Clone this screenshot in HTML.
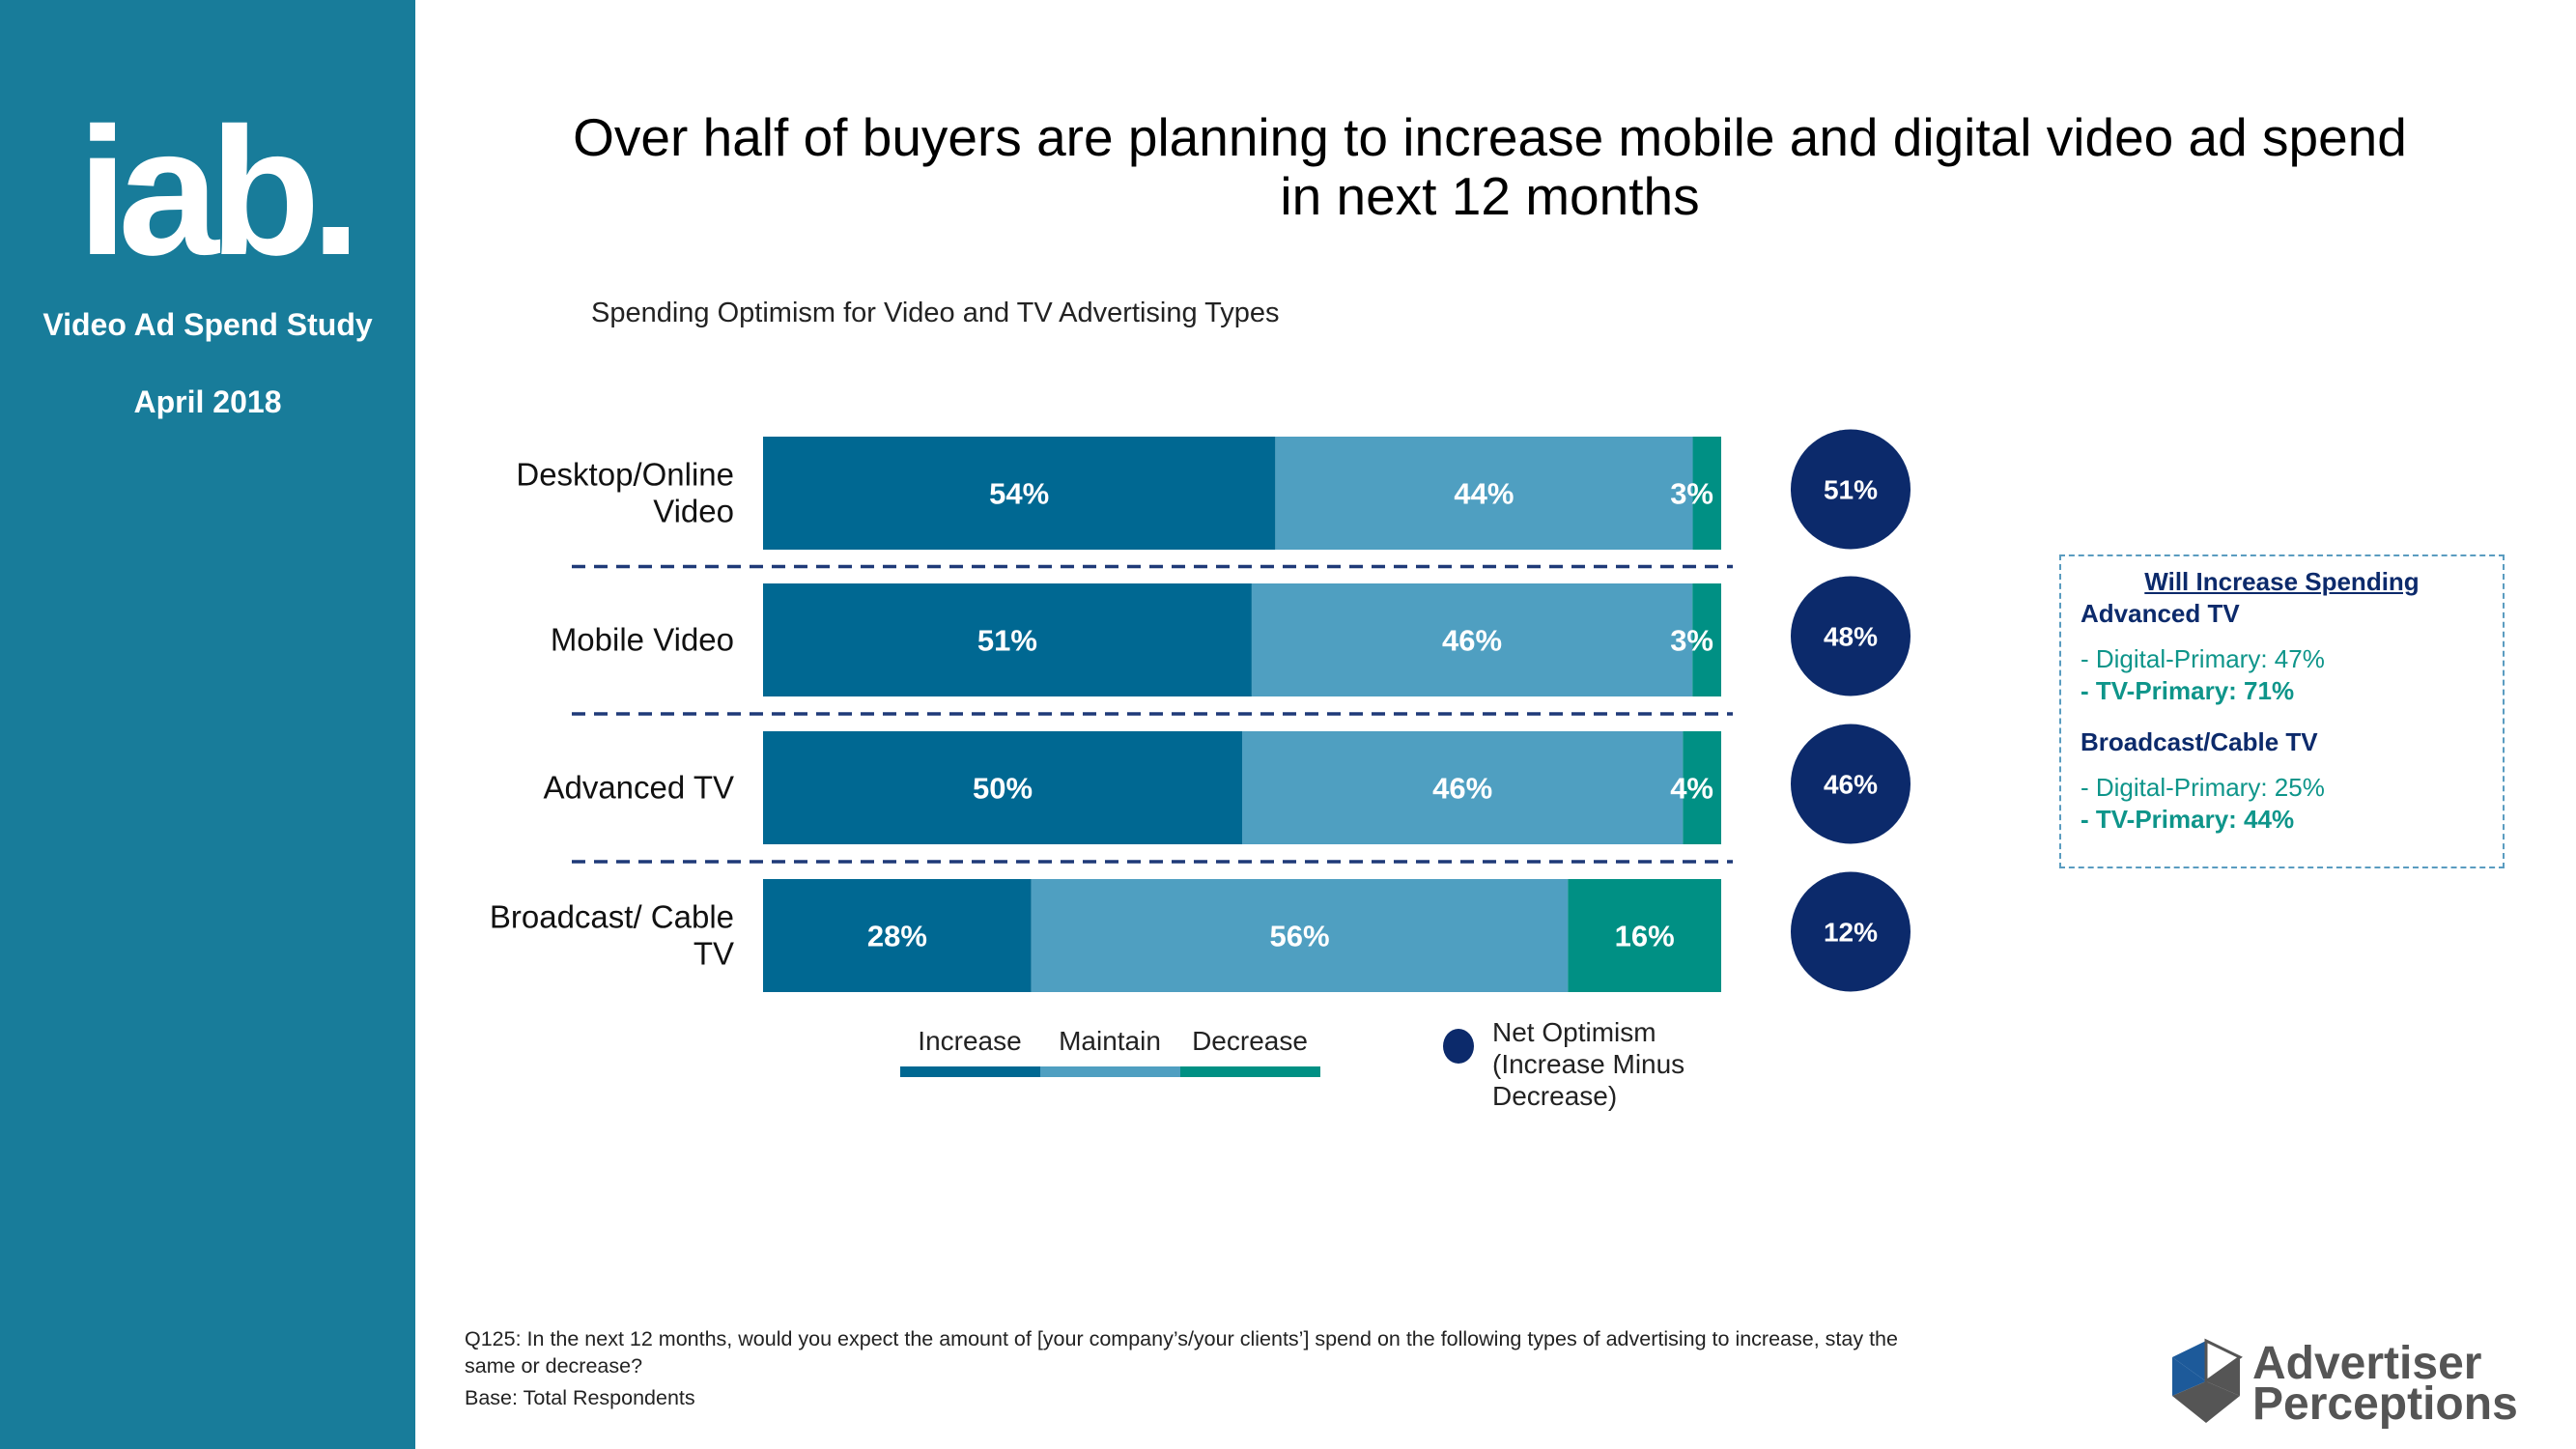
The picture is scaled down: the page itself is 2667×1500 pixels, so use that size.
<!DOCTYPE html>
<html><head><meta charset="utf-8"><style>
body{margin:0;width:2667px;height:1500px;position:relative;background:#fff;font-family:"Liberation Sans",Arial,sans-serif;overflow:hidden}
.a{position:absolute}
</style></head><body>
<div class="a" style="left:0;top:0;width:430px;height:1500px;background:#187c9a"></div>
<div class="a" style="left:72px;top:98px;width:300px;text-align:center;color:#fff;font-weight:bold;font-size:188px;letter-spacing:-10px;line-height:200px">iab.</div>
<div class="a" style="left:0;top:318px;width:430px;text-align:center;color:#fff;font-weight:bold;font-size:32px">Video Ad Spend Study</div>
<div class="a" style="left:0;top:398px;width:430px;text-align:center;color:#fff;font-weight:bold;font-size:32px">April 2018</div>
<div class="a" style="left:490px;top:112px;width:2105px;text-align:center;font-size:55px;line-height:61px;color:#000">Over half of buyers are planning to increase mobile and digital video ad spend<br>in next 12 months</div>
<div class="a" style="left:612px;top:308px;font-size:29px;color:#222">Spending Optimism for Video and TV Advertising Types</div>
<svg class="a" id="chart" style="left:0;top:0" width="2667" height="1500"></svg>
<div class="a" style="left:1545px;top:1052px;font-size:28px;line-height:33px;color:#222">Net Optimism<br>(Increase Minus<br>Decrease)</div>
<div class="a" style="left:2132px;top:574px;width:457px;height:321px;border:2px dashed #5a9cc0;font-size:26px;line-height:33px">
<div style="text-align:center;color:#0c2a6b;font-weight:bold;text-decoration:underline;margin-top:10px">Will Increase Spending</div>
<div style="padding-left:20px">
<div style="color:#0c2a6b;font-weight:bold">Advanced TV</div>
<div style="height:14px"></div>
<div style="color:#0e958a">- Digital-Primary: 47%</div>
<div style="color:#0e958a;font-weight:bold">- TV-Primary: 71%</div>
<div style="height:20px"></div>
<div style="color:#0c2a6b;font-weight:bold">Broadcast/Cable TV</div>
<div style="height:14px"></div>
<div style="color:#0e958a">- Digital-Primary: 25%</div>
<div style="color:#0e958a;font-weight:bold">- TV-Primary: 44%</div>
</div></div>
<div class="a" style="left:481px;top:1372px;width:1530px;font-size:21.5px;line-height:28px;color:#222">Q125: In the next 12 months, would you expect the amount of [your company’s/your clients’] spend on the following types of advertising to increase, stay the same or decrease?<div style="margin-top:5px">Base: Total Respondents</div></div>
<svg class="a" style="left:2244px;top:1385px" width="420" height="95">
<polygon points="5,20 40,3 40,45" fill="#1d5a9a"/><polygon points="5,20 40,45 5,60" fill="#1d5a9a"/>
<polygon points="40,3 75,20 40,45" fill="none" stroke="#555" stroke-width="3"/><polygon points="75,20 75,60 40,45" fill="#555"/>
<polygon points="5,60 40,45 40,88" fill="#555"/><polygon points="40,45 75,60 40,88" fill="#555"/>
<text x="88" y="42" font-family="Liberation Sans" font-weight="bold" font-size="48" fill="#555">Advertiser</text>
<text x="88" y="84" font-family="Liberation Sans" font-weight="bold" font-size="48" fill="#555">Perceptions</text>
</svg>
<script>
const categories=[["Desktop/Online","Video"],["Mobile Video"],["Advanced TV"],["Broadcast/ Cable","TV"]];
const increase=[54,51,50,28];
const maintain=[44,46,46,56];
const decrease=[3,3,4,16];
const netOptimism=[51,48,46,12];
const legendLabels=["Increase","Maintain","Decrease"];
const colors=["#006892","#4f9fc1","#009084"];
const svg=document.getElementById('chart');const NS="http://www.w3.org/2000/svg";
const x0=790,x1=1782,rowTops=[452,604,757,910],barH=117;
function mk(t,a){const e=document.createElementNS(NS,t);for(const k in a)e.setAttribute(k,a[k]);svg.appendChild(e);return e;}
function xs(frac){return x0+frac*(x1-x0);}
categories.forEach((cat,i)=>{
 const vals=[increase[i],maintain[i],decrease[i]];const tot=vals.reduce((a,b)=>a+b,0);
 let acc=0;const y=rowTops[i];
 vals.forEach((v,j)=>{
  const xa=xs(acc/tot),xb=xs((acc+v)/tot);acc+=v;
  const r=mk('rect',{x:xa,y:y,width:xb-xa,height:barH,fill:colors[j]});
  
  
  const tx=j===2&&v<8?xb-8:(xa+xb)/2;
  const t=mk('text',{x:tx,y:y+barH/2+11,'text-anchor':j===2&&v<8?'end':'middle','font-family':'Liberation Sans','font-weight':'bold','font-size':31,fill:'#fff'});
  t.textContent=v+'%';
  
  
 });
 const cy=y+barH/2;
 cat.forEach((ln,k)=>{const t=mk('text',{x:760,y:cy+11+(k-(cat.length-1)/2)*38,'text-anchor':'end','font-family':'Liberation Sans','font-size':33,fill:'#111'});t.textContent=ln;
  
  });
 const c=mk('ellipse',{cx:1916,cy:cy-4,rx:62,ry:62,fill:'#0c2a6b'});
 
 
 const ct=mk('text',{x:1916,y:cy+6,'text-anchor':'middle','font-family':'Liberation Sans','font-weight':'bold','font-size':28,fill:'#fff'});ct.textContent=netOptimism[i]+'%';
 
 
 if(i<categories.length-1){const ly=(y+barH+rowTops[i+1])/2;
  const l=mk('line',{x1:592,x2:1794,y1:ly,y2:ly,stroke:'#1f3a78','stroke-width':3.5,'stroke-dasharray':'14,9'});
  
  }
});
legendLabels.forEach((lab,j)=>{
 const lx=932+j*145;
 const r=mk('rect',{x:lx,y:1104,width:145,height:11,fill:colors[j]});
 
 
 const t=mk('text',{x:lx+72,y:1087,'text-anchor':'middle','font-family':'Liberation Sans','font-size':28,fill:'#222'});t.textContent=lab;
 
 
});
const d=mk('ellipse',{cx:1510,cy:1083,rx:16,ry:18,fill:'#0c2a6b'});


</script>
</body></html>
